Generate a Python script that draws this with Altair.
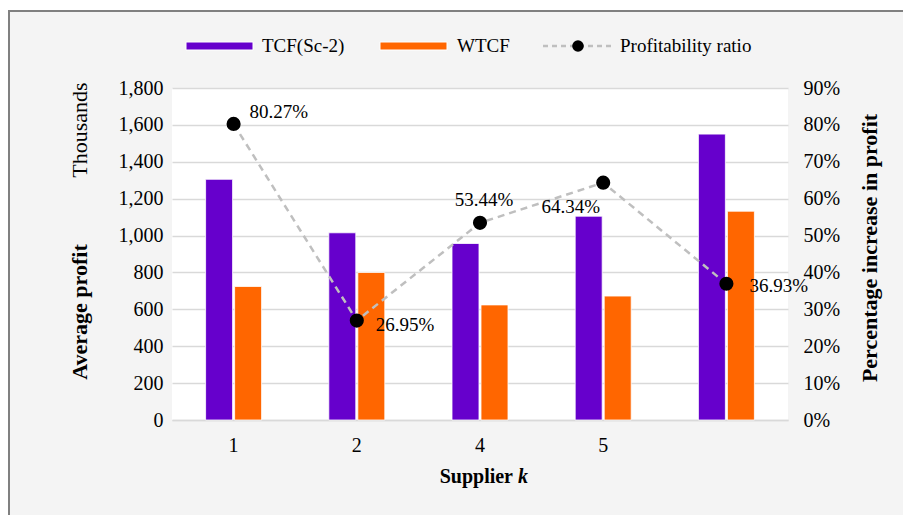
import altair as alt
import pandas as pd

# ---- data -------------------------------------------------------------
suppliers = ["1", "2", "4", "5", " "]
series_names = ["TCF(Sc-2)", "WTCF"]
tcf_sc2 = [1305, 1015, 957, 1105, 1550]      # average profit, thousands
wtcf = [724, 800, 624, 672, 1132]            # average profit, thousands
ratio = [0.8027, 0.2695, 0.5344, 0.6434, 0.3693]
left_ticks = [0, 200, 400, 600, 800, 1000, 1200, 1400, 1600, 1800]
right_ticks = [0.0, 0.1, 0.2, 0.3, 0.4, 0.5, 0.6, 0.7, 0.8, 0.9]

bars_df = pd.DataFrame({
    "supplier": suppliers * 2,
    "series": [series_names[0]] * len(suppliers) + [series_names[1]] * len(suppliers),
    "profit": tcf_sc2 + wtcf,
})
ratio_df = pd.DataFrame({"supplier": suppliers, "ratio": ratio})
one = pd.DataFrame({"k": [0]})

FONT = "Liberation Serif"
W, H = 616, 332
PURPLE, ORANGE = "#6600cc", "#ff6600"
GRID = "#d9d9d9"

x_enc = alt.X(
    "supplier:N", sort=suppliers,
    scale=alt.Scale(type="band", paddingInner=0.31, paddingOuter=0.155),
    axis=alt.Axis(title=None, labelAngle=0, ticks=False, domain=True,
                  domainColor=GRID, domainWidth=1.5, grid=False,
                  labelFont=FONT, labelFontSize=20, labelColor="black",
                  labelPadding=15),
)

# ---- bars (left axis) --------------------------------------------------
bars = alt.Chart(bars_df).mark_bar(stroke="white", strokeWidth=0.8).encode(
    x=x_enc,
    xOffset=alt.XOffset("series:N", sort=series_names,
                        scale=alt.Scale(paddingInner=0.07, paddingOuter=0.5)),
    y=alt.Y("profit:Q", scale=alt.Scale(domain=[0, 1800], nice=False),
            axis=alt.Axis(values=left_ticks, format=",.0f", title=None, orient="left",
                          grid=True, gridColor=GRID, gridWidth=1.5,
                          domain=False, ticks=False, labelPadding=9,
                          labelFont=FONT, labelFontSize=20, labelColor="black")),
    color=alt.Color("series:N", scale=alt.Scale(domain=series_names, range=[PURPLE, ORANGE]),
                    legend=None),
)

# ---- profitability ratio (right axis) ----------------------------------
y_ratio = alt.Y("ratio:Q", scale=alt.Scale(domain=[0, 0.9], nice=False),
                axis=alt.Axis(values=right_ticks, format=".0%", title=None, orient="right",
                              grid=False, domain=False, ticks=False, labelPadding=15,
                              labelFont=FONT, labelFontSize=20, labelColor="black"))

line = alt.Chart(ratio_df).mark_line(color="#bfbfbf", strokeWidth=2.5,
                                     strokeDash=[7, 5]).encode(x=x_enc, y=y_ratio)
dots = alt.Chart(ratio_df).mark_circle(color="black", size=200, opacity=1).encode(
    x=x_enc, y=y_ratio)

label_style = {
    "1": dict(align="left", dx=16, dy=-12),
    "2": dict(align="left", dx=19, dy=4),
    "4": dict(align="center", dx=4, dy=-23),
    "5": dict(align="right", dx=-3, dy=24),
    " ": dict(align="left", dx=23, dy=2),
}
labels = [
    alt.Chart(ratio_df).transform_filter(alt.datum.supplier == s)
    .mark_text(font=FONT, fontSize=19, color="black", baseline="middle", **st)
    .encode(x=x_enc, y=y_ratio, text=alt.Text("ratio:Q", format=".2%"))
    for s, st in label_style.items()
]

ratio_layer = alt.layer(line, dots, *labels)


# ---- frame, titles, legend ---------------------------------------------
def box(x1, x2, y1, y2, color):
    return alt.Chart(one).mark_rect(color=color).encode(
        x=alt.value(x1), x2=alt.value(x2), y=alt.value(y1), y2=alt.value(y2))


def text(s, x, y, **kw):
    base = dict(font=FONT, fontSize=22, color="black", baseline="middle")
    base.update(kw)
    return alt.Chart(one).mark_text(**base).encode(
        x=alt.value(x), y=alt.value(y), text=alt.value(s))


frame = [
    box(-172, 740, -88, -78, "white"),
    box(-172, -164, -88, 430, "white"),
    box(-164, 740, -78, -76, "#808080"),
    box(-164, -162, -78, 430, "#808080"),
]

titles = [
    text("Thousands", -92, 42, angle=270, align="center"),
    text("Average profit", -92, 224, angle=270, align="center", fontWeight="bold"),
    text("Percentage increase in profit", 698, 160, angle=270, align="center",
         fontWeight="bold"),
    text("Supplier", 341, 389, align="right", fontWeight="bold", fontSize=20),
    text("k", 346, 389, align="left", fontWeight="bold", fontStyle="italic", fontSize=20),
]

legend = [
    alt.Chart(one).mark_rect(color=PURPLE, stroke="white", strokeWidth=1).encode(
        x=alt.value(14), x2=alt.value(81), y=alt.value(-46), y2=alt.value(-38)),
    text("TCF(Sc-2)", 90, -42, align="left", fontSize=19),
    alt.Chart(one).mark_rect(color=ORANGE, stroke="white", strokeWidth=1).encode(
        x=alt.value(208), x2=alt.value(275), y=alt.value(-46), y2=alt.value(-38)),
    text("WTCF", 285, -42, align="left", fontSize=19),
    alt.Chart(one).mark_rule(color="#bfbfbf", strokeWidth=2.5, strokeDash=[5, 4]).encode(
        x=alt.value(371), x2=alt.value(441), y=alt.value(-42)),
    alt.Chart(one).mark_circle(color="black", size=135, opacity=1).encode(
        x=alt.value(406), y=alt.value(-42)),
    text("Profitability ratio", 448, -42, align="left", fontSize=19),
]

chart = (
    alt.layer(*frame, bars, ratio_layer, *titles, *legend)
    .resolve_scale(y="independent")
    .properties(
        width=W, height=H,
        autosize=alt.AutoSizeParams(type="none"),
        padding={"left": 172, "top": 88, "right": 115, "bottom": 95},
        background="#f4f4f4",
    )
    .configure(font=FONT)
    .configure_text(font=FONT)
    .configure_view(fill="white", stroke=None)
)

chart.save("out.html", embed_options={"renderer": "svg", "actions": False})
